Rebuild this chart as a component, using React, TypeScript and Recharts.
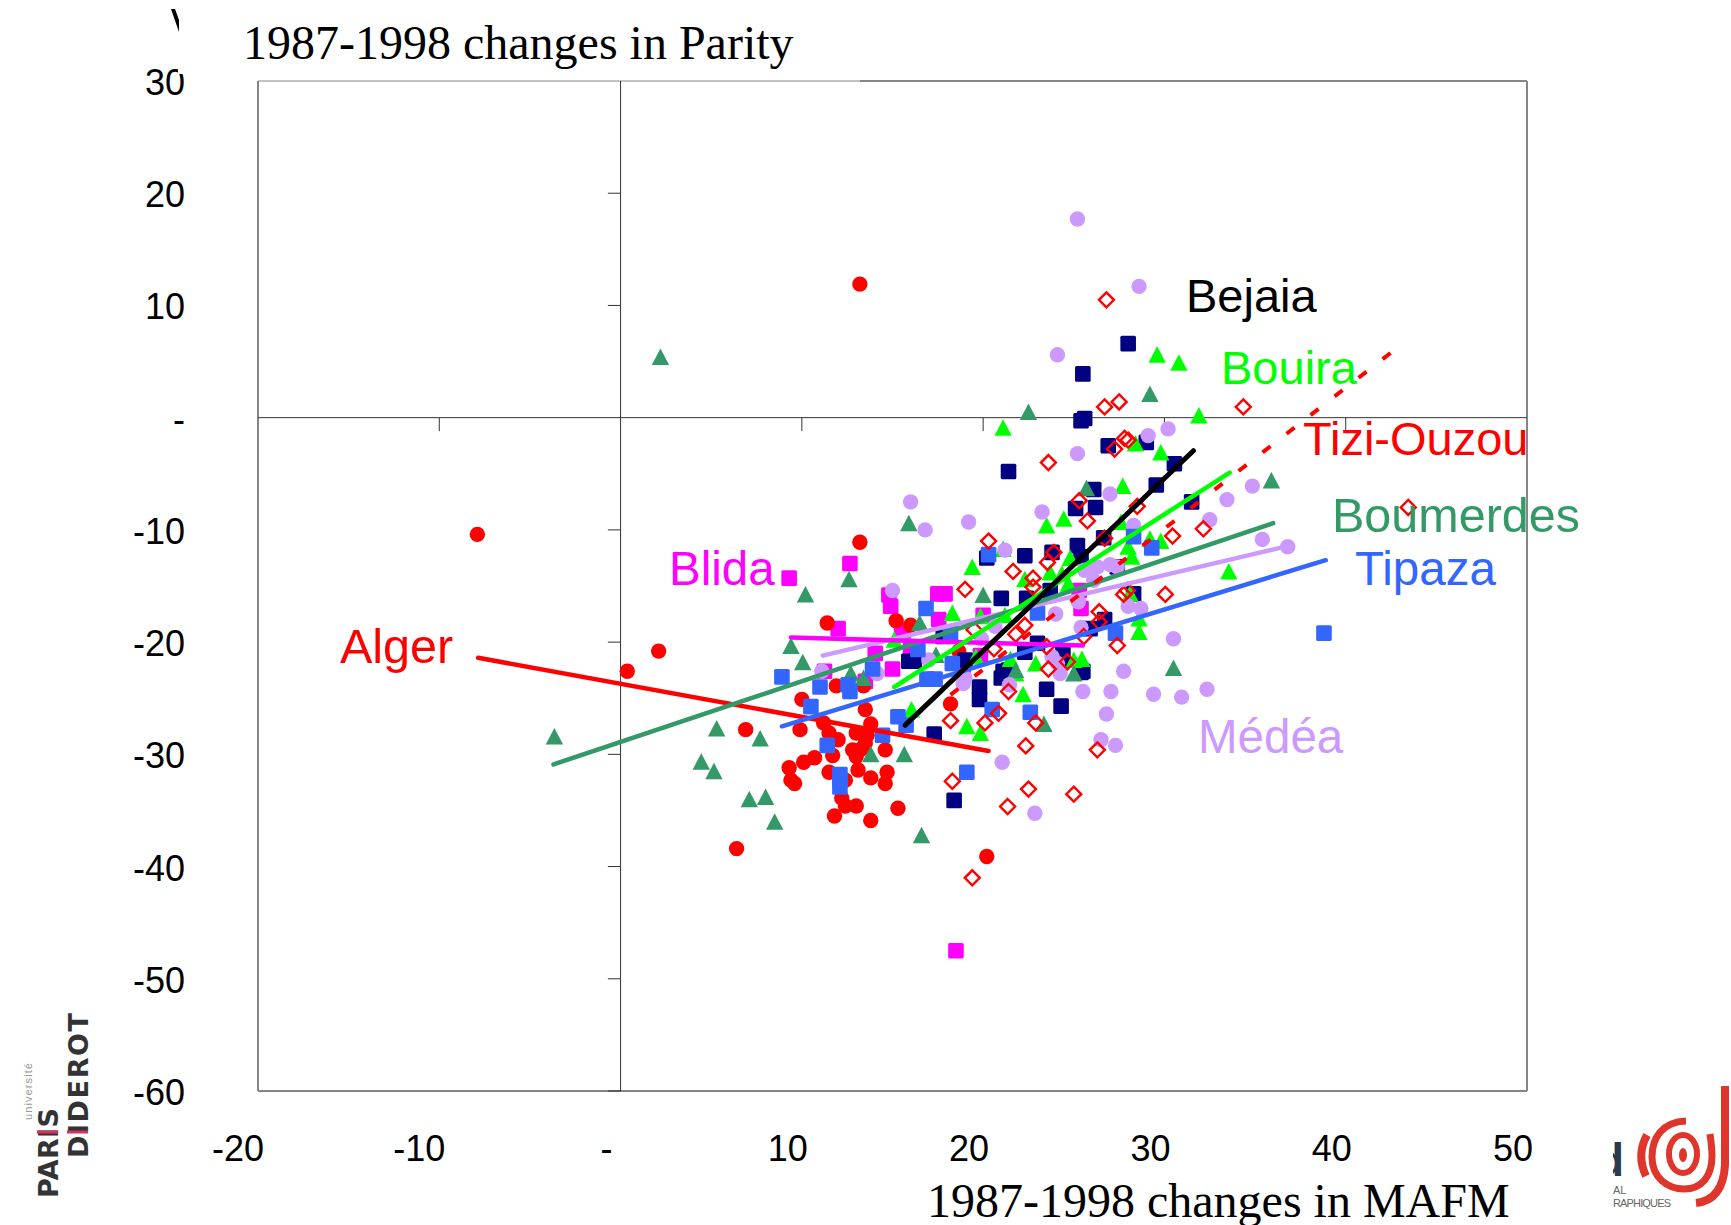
import { ScatterChart, Scatter, XAxis, YAxis, ReferenceLine } from 'recharts';

const xTicks = [-20, -10, 0, 10, 20, 30, 40, 50];
const yTicks = [30, 20, 10, 0, -10, -20, -30, -40, -50, -60];

type Pair = [number, number];

const blidaPairs: Pair[] = [
  [9.3, -14.3], [12.65, -13], [18.5, -47.5], [14.8, -15.8], [14.9, -16.8], [17.5, -15.7], [17.9, -15.7], [17.55, -18],
  [20, -17.6], [12, -18.8], [15.5, -19], [14.05, -21], [15, -22.4], [11.25, -22.6], [13.5, -23.5], [25.4, -17],
  [25.3, -15.4], [16, -20.7], [18.9, -22.6], [19.85, -21.2], [15.6, -19],
];
const algerPairs: Pair[] = [
  [-7.9, -10.4], [13.2, 11.9], [0.37, -22.6], [2.1, -20.8], [13.2, -11.1], [11.4, -18.3], [15.2, -18.1], [16, -18.5],
  [11.9, -23.9], [13.4, -23.9], [10, -25.1], [13.5, -26], [6.9, -27.8], [9.9, -27.8], [11.2, -27.2], [11.5, -28.1],
  [12, -28.7], [13, -28.1], [13.8, -27.3], [13.6, -28.3], [13.5, -29], [12.8, -29.6], [13, -30.2], [13.3, -29.5],
  [14.6, -29.6], [11.7, -30.1], [10.7, -30.3], [10.1, -30.7], [9.3, -31.2], [9.4, -32.3], [9.6, -32.6], [11.5, -31.6],
  [13.1, -31.4], [13.8, -32.1], [14.7, -31.6], [14.6, -32.6], [12.4, -32.3], [12.2, -33.9], [12.4, -34.6], [13, -34.6],
  [11.8, -35.5], [13.8, -35.9], [15.3, -34.8], [6.4, -38.4], [20.2, -39.1], [18.2, -25.5], [18.65, -20.8],
];
const bejaiaPairs: Pair[] = [
  [28, 6.6], [25.5, 3.9], [25.6, -0.07], [25.4, -0.28], [26.9, -2.5], [29, -2.2], [30.55, -4.1], [29.55, -6],
  [31.5, -7.5], [21.4, -4.8], [26.1, -6.4], [25.1, -8.1], [26.2, -8], [26.65, -10.7], [25.2, -11.4], [23.8, -12],
  [22.3, -12.3], [20.2, -12.5], [25.4, -12.4], [27.4, -13.3], [21, -16.1], [22.4, -16.1], [23.7, -15.4], [28.3, -15.7],
  [25.9, -18.8], [26.7, -18], [23, -20.1], [22.3, -20.9], [24.4, -20.9], [17.8, -19.5], [15.9, -21.7], [16.2, -21.7],
  [19, -21.6], [21.1, -22.6], [25.4, -22.7], [17.3, -28.2], [18.4, -34.1], [19.8, -24], [19.8, -25.1], [21, -23.2],
  [21.4, -22.5], [23.5, -24.2], [24.3, -25.7], [24.35, -21.6], [25.5, -22.6],
];
const bouiraPairs: Pair[] = [
  [29.6, 5.6], [30.8, 4.9], [21.1, -0.9], [31.9, 0.2], [28.4, -2.3], [29.8, -3.1], [27.7, -6.1], [23.5, -9.6],
  [24.45, -9], [27.6, -9.3], [29.2, -10.8], [29.8, -11], [28, -11.5], [28.2, -12.4], [24.8, -12.5], [19.4, -13.3],
  [21.1, -11.7], [23.7, -13.8], [22.3, -14.4], [24.35, -13.9], [24.7, -14.8], [28.1, -15.7], [18.3, -17.4], [21.2, -17.6],
  [15.1, -19.8], [21.5, -21.5], [22.9, -21.9], [21.8, -22.8], [25, -21.6], [25.45, -21.5], [28.6, -17.9], [28.6, -19.1],
  [33.55, -13.7], [19.85, -17.7], [22.2, -24.65], [19.1, -27.5], [19.85, -28.1], [16.05, -26], [19.6, -21.3],
];
const boumerdesPairs: Pair[] = [
  [2.2, 5.4], [-3.65, -28.4], [22.5, 0.5], [29.2, 2.1], [35.9, -5.6], [25.7, -6.3], [15.9, -9.4], [12.6, -14.4],
  [10.2, -15.75], [20, -15.8], [16.5, -18.3], [9.4, -20.35], [10.05, -21.8], [12.7, -22.8], [13.4, -23.2], [17.4, -21.15],
  [5.3, -27.7], [7.7, -28.6], [4.45, -30.65], [5.15, -31.5], [7.1, -34], [8, -33.8], [8.5, -36], [13.8, -30],
  [15.65, -30], [16.6, -37.2], [23.35, -27.3], [25, -22.8], [30.5, -22.3], [21.8, -22.5],
];
const medeaPairs: Pair[] = [
  [25.2, 17.7], [28.6, 11.7], [24.1, 5.6], [30.2, -1], [29.1, -1.6], [25.2, -3.2], [27, -6.8], [16, -7.5],
  [16.8, -10], [19.2, -9.3], [23.25, -8.4], [21.2, -11.8], [28.3, -9.6], [33.45, -7.3], [32.5, -9.1], [34.85, -6.1],
  [25.6, -13.6], [26.3, -13.3], [27, -13.1], [27.4, -13.3], [26.1, -14.5], [15, -15.4], [25.25, -16.4], [24, -17.5],
  [28, -16.8], [28.7, -17], [20.65, -18.6], [25.4, -18.7], [30.5, -19.7], [19.9, -19.7], [27.75, -22.6], [23.8, -21.3],
  [24.1, -21.9], [24.25, -22.8], [17, -21.6], [19, -23.2], [14.15, -22.8], [35.4, -10.85], [36.8, -11.5], [11.1, -22.6],
  [18.9, -23.7], [21.45, -23.8], [21.05, -30.7], [22.85, -35.25], [25.5, -24.4], [27.05, -24.4], [29.4, -24.65], [30.95, -24.9],
  [32.35, -24.2], [26.8, -26.4], [26.5, -28.7], [27.3, -29.2],
];
const tipazaPairs: Pair[] = [
  [38.8, -19.2], [8.9, -23.1], [11, -24], [12.55, -23.8], [12.65, -24.4], [13.9, -22.4], [10.5, -25.75], [11.4, -29.2],
  [12.1, -31.8], [12.1, -32.3], [12.1, -32.9], [14.45, -28.3], [15.3, -26.65], [15.75, -27.4], [16.85, -17], [16.4, -20.65],
  [18.3, -21.9], [16.9, -23.3], [17.35, -23.3], [19.1, -31.6], [20.5, -26], [22.6, -26.25], [23, -17.4], [20.3, -12.2],
  [28.3, -10.6], [29.3, -11.6], [27.3, -19.2], [18.2, -19.2],
];
const tiziPairs: Pair[] = [
  [26.8, 10.5], [43.45, -8], [34.35, 0.96], [27.5, 1.4], [26.7, 0.96], [28, -2], [27.8, -1.85], [27.25, -2.8],
  [23.6, -4], [25.3, -7.4], [25.75, -9.2], [28.5, -7.9], [30.45, -10.55], [32.15, -9.9], [20.3, -11], [26.7, -10.75],
  [23.9, -12], [23.55, -12.9], [21.65, -13.7], [22.75, -14.3], [22.75, -15.1], [19, -15.3], [30.05, -15.75], [27.95, -15.4],
  [27.75, -15.75], [26.4, -17.3], [26.4, -18.2], [22.3, -18.5], [21.8, -19.3], [27.4, -20.3], [23.5, -20.4], [20.6, -20.6],
  [24.65, -21.75], [23.6, -22.4], [19.5, -18.9], [25.55, -19.5], [20.85, -26.35], [20.1, -27.2], [22.9, -27.2], [18.2, -27],
  [22.35, -29.25], [18.3, -32.4], [22.5, -33.1], [21.35, -34.65], [25, -33.55], [19.4, -41], [21.4, -24.4], [26.3, -29.6],
];

const algerTrend: Pair[] = [[-7.86, -21.4], [20.3, -29.7]];
const tipazaTrend: Pair[] = [[8.9, -27.5], [38.9, -12.7]];
const medeaTrend: Pair[] = [[11.15, -21.2], [36.9, -11.4]];
const boumerdesTrend: Pair[] = [[-3.7, -30.9], [36, -9.4]];
const blidaTrend: Pair[] = [[9.4, -19.6], [25.5, -20.3]];
const bouiraTrend: Pair[] = [[15.1, -24], [33.6, -4.9]];
const tiziTrend: Pair[] = [[18.2, -24.7], [42.5, 5.8]];
const bejaiaTrend: Pair[] = [[15.7, -27.4], [31.6, -2.95]];

const toPoints = (pairs: Pair[]) => pairs.map(([x, y]) => ({ x, y }));

const RED = '#ff0000';
const NAVY = '#000080';
const LIME = '#00ff00';
const SEA = '#339966';
const BLUE = '#3366ff';
const LILAC = '#cc99ff';
const MAGENTA = '#ff00ff';
const GREY = '#868686';
const SANS = '"Liberation Sans", Arial, sans-serif';
const SERIF = '"Liberation Serif", "Times New Roman", serif';

const SquareDot = ({ cx, cy, fill }: any) => <rect x={cx - 7.8} y={cy - 7.8} width={15.6} height={15.6} rx={1.5} fill={fill} />;
const CircleDot = ({ cx, cy, fill }: any) => <circle cx={cx} cy={cy} r={7.7} fill={fill} />;
const TriangleDot = ({ cx, cy, fill }: any) => (
  <path d={`M${cx},${cy - 8.5} L${cx + 8.7},${cy + 8} L${cx - 8.7},${cy + 8} Z`} fill={fill} />
);
const DiamondDot = ({ cx, cy, fill }: any) => (
  <path d={`M${cx},${cy - 7.5} L${cx + 7.5},${cy} L${cx},${cy + 7.5} L${cx - 7.5},${cy} Z`} fill="none" stroke={fill} strokeWidth={2.4} />
);
const NoDot = () => null;

const XTick = ({ x, y, payload }: any) => (
  <text x={x + (payload.value === 0 ? -8 : 6)} y={y + 70} textAnchor="end" fontFamily={SANS} fontSize={36} fill="#000">
    {payload.value === 0 ? '-' : payload.value}
  </text>
);

const YTick = ({ x, y, payload }: any) => (
  <g>
    <text x={x - 73} y={y + 14} textAnchor="end" fontFamily={SANS} fontSize={36} fill="#000">
      {payload.value === 0 ? '-' : payload.value}
    </text>
    {payload.value === 30 && <rect x={x - 80} y={y - 17} width={12} height={10} fill="#fff" />}
  </g>
);

const trendLine = (stroke: string, width = 4.5) => ({
  stroke,
  strokeWidth: width,
  strokeLinecap: 'round' as const,
});

const labels = [
  { text: 'Bejaia', x: 1186, y: 312, fill: '#000', size: 47 },
  { text: 'Bouira', x: 1221, y: 384, fill: LIME, size: 47 },
  { text: 'Tizi-Ouzou', x: 1303, y: 455, fill: RED, size: 47 },
  { text: 'Boumerdes', x: 1332, y: 532, fill: SEA, size: 48.5 },
  { text: 'Tipaza', x: 1355, y: 585, fill: BLUE, size: 47.5 },
  { text: 'Médéa', x: 1198, y: 753, fill: LILAC, size: 47.5 },
  { text: 'Blida', x: 669, y: 585, fill: MAGENTA, size: 47.5 },
  { text: 'Alger', x: 340, y: 663, fill: RED, size: 48.5 },
];

function Overlay() {
  return (
    <svg width={1731} height={1225} style={{ position: 'absolute', left: 0, top: 0, pointerEvents: 'none' }}>
      <defs>
        <clipPath id="inedClip">
          <rect x={1613} y={1130} width={118} height={95} />
        </clipPath>
      </defs>
      <text x={243} y={59} fontFamily={SERIF} fontSize={48} fill="#000">1987-1998 changes in Parity</text>
      <text x={927} y={1217} fontFamily={SERIF} fontSize={48} fill="#000">1987-1998 changes in MAFM</text>
      <path d="M171,9 L175,9 L179,20 L179,32 Z" fill="#000" />
      {labels.map((l) => (
        <text key={l.text} x={l.x} y={l.y} fontFamily={SANS} fontSize={l.size} fill={l.fill}>{l.text}</text>
      ))}

      <g fontFamily='"DejaVu Sans", sans-serif' fontWeight="bold" fill="#333">
        <text transform="translate(58,1198) rotate(-90)" fontSize={27} textLength={90}>PARIS</text>
        <text transform="translate(88,1158) rotate(-90)" fontSize={27} textLength={145}>DIDEROT</text>
      </g>
      <text transform="translate(32,1120) rotate(-90)" fontFamily={SANS} fontSize={11} fill="#999" textLength={57}>université</text>
      <path d="M37,1132 L58,1132 M67,1132 L88,1132" stroke="#d8315b" strokeWidth={3} />

      <g clipPath="url(#inedClip)">
        <text x={1596} y={1176} fontFamily={SANS} fontWeight="bold" fontSize={46} fill="#2b3a4a">d</text>
      </g>
      <text x={1613} y={1194} fontFamily={SANS} fontSize={11} fill="#666">AL</text>
      <text x={1613} y={1207} fontFamily={SANS} fontSize={11} fill="#666" textLength={58}>RAPHIQUES</text>
      <g fill="none" stroke="#e0352b" strokeLinecap="butt">
        <path d="M1725,1086 L1725,1165 Q1723,1200 1696,1203" strokeWidth={8} />
        <path d="M1686,1121 C1662,1122 1652,1138 1652,1157 C1652,1178 1668,1189 1684,1189 C1702,1189 1712,1176 1712,1156 C1712,1148 1711,1141 1710,1134" strokeWidth={7} />
        <path d="M1647,1135 Q1636,1155 1646,1176" strokeWidth={8} />
        <ellipse cx={1683} cy={1154} rx={14} ry={19} strokeWidth={6} />
      </g>
      <ellipse cx={1683} cy={1155} rx={4} ry={7} fill="#e0352b" />
    </svg>
  );
}

export default function App() {
  return (
    <div style={{ position: 'absolute', left: 0, top: 0, width: 1731, height: 1225, background: '#fff', overflow: 'hidden' }}>
      <ScatterChart width={1731} height={1225} margin={{ top: 81, right: 204, bottom: 74, left: 158 }}>
        <XAxis
          type="number"
          dataKey="x"
          domain={[-20, 50]}
          ticks={xTicks}
          interval={0}
          height={60}
          axisLine={false}
          tickLine={false}
          tickSize={0}
          tickMargin={0}
          tick={XTick}
        />
        <YAxis
          type="number"
          dataKey="y"
          domain={[-60, 30]}
          ticks={yTicks}
          interval={0}
          width={100}
          axisLine={false}
          tickLine={false}
          tickSize={0}
          tickMargin={0}
          tick={YTick}
        />

        <ReferenceLine segment={[{ x: -20, y: 30 }, { x: 13.2, y: 30 }]} stroke={GREY} strokeWidth={1} />
        <ReferenceLine segment={[{ x: 13.2, y: 30 }, { x: 50, y: 30 }]} stroke={GREY} strokeWidth={2} />
        <ReferenceLine segment={[{ x: 50, y: 30 }, { x: 50, y: -60 }]} stroke={GREY} strokeWidth={2} />
        <ReferenceLine segment={[{ x: -20, y: -60 }, { x: 50, y: -60 }]} stroke={GREY} strokeWidth={2} />
        <ReferenceLine segment={[{ x: -20, y: 30 }, { x: -20, y: -60 }]} stroke={GREY} strokeWidth={2} />
        <ReferenceLine x={0} stroke="#333" strokeWidth={1} />
        <ReferenceLine y={0} stroke="#333" strokeWidth={1} />
        {xTicks.filter((t) => t !== 0 && t !== 50 && t !== -20).map((t) => (
          <ReferenceLine key={`x${t}`} segment={[{ x: t, y: 0 }, { x: t, y: -1.2 }]} stroke="#333" strokeWidth={1} />
        ))}
        {yTicks.filter((t) => t !== 0 && t !== 30).map((t) => (
          <ReferenceLine key={`y${t}`} segment={[{ x: 0, y: t }, { x: -0.7, y: t }]} stroke="#333" strokeWidth={1} />
        ))}

        <Scatter data={toPoints(blidaPairs)} fill={MAGENTA} shape={SquareDot} isAnimationActive={false} />
        <Scatter data={toPoints(algerPairs)} fill={RED} shape={CircleDot} isAnimationActive={false} />
        <Scatter data={toPoints(bejaiaPairs)} fill={NAVY} shape={SquareDot} isAnimationActive={false} />
        <Scatter data={toPoints(bouiraPairs)} fill={LIME} shape={TriangleDot} isAnimationActive={false} />
        <Scatter data={toPoints(boumerdesPairs)} fill={SEA} shape={TriangleDot} isAnimationActive={false} />
        <Scatter data={toPoints(medeaPairs)} fill={LILAC} shape={CircleDot} isAnimationActive={false} />
        <Scatter data={toPoints(tipazaPairs)} fill={BLUE} shape={SquareDot} isAnimationActive={false} />
        <Scatter data={toPoints(tiziPairs)} fill={RED} shape={DiamondDot} isAnimationActive={false} />

        <Scatter data={toPoints(algerTrend)} line={trendLine(RED)} shape={NoDot} isAnimationActive={false} />
        <Scatter data={toPoints(tipazaTrend)} line={trendLine(BLUE)} shape={NoDot} isAnimationActive={false} />
        <Scatter data={toPoints(medeaTrend)} line={trendLine(LILAC)} shape={NoDot} isAnimationActive={false} />
        <Scatter data={toPoints(boumerdesTrend)} line={trendLine(SEA)} shape={NoDot} isAnimationActive={false} />
        <Scatter data={toPoints(blidaTrend)} line={trendLine(MAGENTA)} shape={NoDot} isAnimationActive={false} />
        <Scatter data={toPoints(bouiraTrend)} line={trendLine(LIME)} shape={NoDot} isAnimationActive={false} />
        <Scatter data={toPoints(tiziTrend)} line={{ stroke: RED, strokeWidth: 4, strokeDasharray: '10 20.4' }} shape={NoDot} isAnimationActive={false} />
        <Scatter data={toPoints(bejaiaTrend)} line={trendLine('#000', 5)} shape={NoDot} isAnimationActive={false} />
      </ScatterChart>
      <Overlay />
    </div>
  );
}
